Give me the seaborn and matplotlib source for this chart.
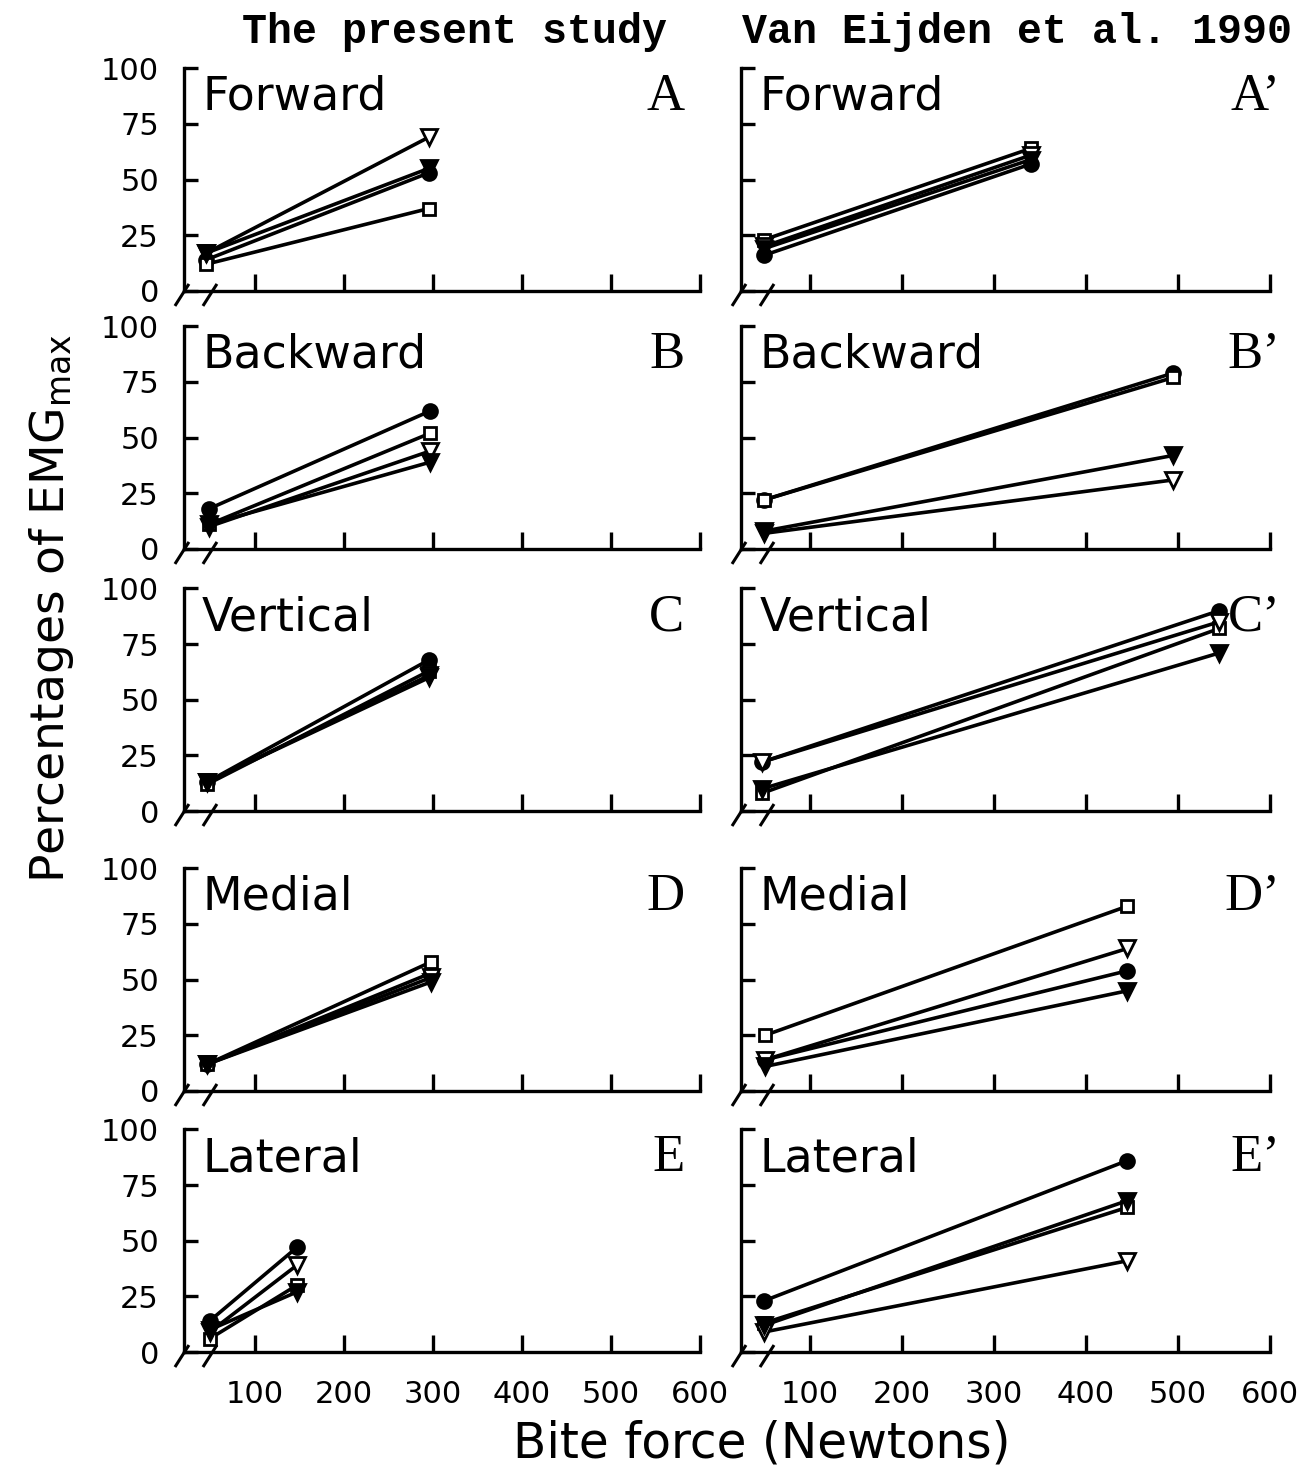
import matplotlib
matplotlib.use("Agg")
import matplotlib.pyplot as plt
import seaborn as sns

sns.set_theme(style="white")
plt.rcParams['font.family'] = ['DejaVu Sans']
plt.rcParams['text.color'] = 'black'
plt.rcParams['axes.labelcolor'] = 'black'
plt.rcParams['xtick.color'] = 'black'
plt.rcParams['ytick.color'] = 'black'

# ---------------------------------------------------------------- data
directions = ["Forward", "Backward", "Vertical", "Medial", "Lateral"]
letters_present = ["A", "B", "C", "D", "E"]
letters_eijden = ["A\u2019", "B\u2019", "C\u2019", "D\u2019", "E\u2019"]
column_titles = ["The present study", "Van Eijden et al. 1990"]

# bite force (N): low and high level, one pair per bite direction
force_present = [[45, 295], [48, 297], [46, 296], [46, 298], [49, 147]]
force_eijden = [[50, 340], [50, 495], [48, 545], [51, 445], [50, 445]]

# EMG as percentage of maximum, [low, high] per bite direction
present_dot = [[14, 53], [18, 62], [13, 68], [12, 53], [14, 47]]
present_square = [[12, 37], [11, 52], [12, 63], [12, 58], [6, 30]]
present_open_tri = [[17, 69], [10, 44], [13, 61], [12, 51], [9, 39]]
present_solid_tri = [[17, 55], [11, 39], [13, 60], [12, 49], [10, 27]]

eijden_dot = [[16, 57], [22, 79], [22, 90], [14, 54], [23, 86]]
eijden_square = [[23, 64], [22, 77], [8, 82], [25, 83], [13, 65]]
eijden_open_tri = [[20, 61], [7, 31], [22, 85], [14, 64], [9, 41]]
eijden_solid_tri = [[19, 59], [8, 42], [10, 71], [11, 45], [12, 68]]

yticks = [0, 25, 50, 75, 100]
xticks = [100, 200, 300, 400, 500, 600]

# ---------------------------------------------------------------- styling
series_style = [
    dict(marker="o", markerfacecolor="black", markersize=10),
    dict(marker="s", markerfacecolor="white", markersize=9),
    dict(marker="v", markerfacecolor="white", markersize=11),
    dict(marker="v", markerfacecolor="black", markersize=11),
]

FIG_W, FIG_H = 1312, 1465
fig = plt.figure(figsize=(FIG_W / 100, FIG_H / 100), dpi=100)

row_bottoms = [0.8014, 0.6253, 0.4464, 0.2553, 0.0771]
row_height = 0.1520
columns = [
    dict(x0=0.1402, w=0.3933, xmin=20, forces=force_present,
         series=[present_dot, present_square, present_open_tri, present_solid_tri],
         letters=letters_present, letter_x=0.97, ylabels=True),
    dict(x0=0.5648, w=0.4032, xmin=25, forces=force_eijden,
         series=[eijden_dot, eijden_square, eijden_open_tri, eijden_solid_tri],
         letters=letters_eijden, letter_x=1.02, ylabels=False),
]


def draw_break(ax, w_px, h_px):
    """Two slanted strokes marking the broken force axis."""
    dx, dy = 7 / w_px, 11 / h_px
    for cx_px in (-2, 26):
        cx, cy = cx_px / w_px, -4 / h_px
        ax.plot([cx - dx, cx + dx], [cy - dy, cy + dy], color="black",
                lw=2.2, transform=ax.transAxes, clip_on=False,
                solid_capstyle="butt")


for ci, col in enumerate(columns):
    for ri, direction in enumerate(directions):
        ax = fig.add_axes([col["x0"], row_bottoms[ri], col["w"], row_height])
        w_px, h_px = col["w"] * FIG_W, row_height * FIG_H

        force = col["forces"][ri]
        for values, style in zip(col["series"], series_style):
            sns.lineplot(x=force, y=values[ri], ax=ax, color="black",
                         lw=2.6, markeredgecolor="black",
                         markeredgewidth=2.0, clip_on=False, **style)

        ax.set_xlim(col["xmin"], 600)
        ax.set_ylim(0, 100)
        ax.set_xticks(xticks)
        ax.set_yticks(yticks)
        ax.set_xlabel("")
        ax.set_ylabel("")
        for side in ("top", "right"):
            ax.spines[side].set_visible(False)
        for side in ("left", "bottom"):
            ax.spines[side].set_color("black")
            ax.spines[side].set_linewidth(2.4)

        ax.tick_params(axis="y", direction="in", length=10, width=2.4,
                       labelsize=22, pad=18, colors="black",
                       labelleft=col["ylabels"], left=True)
        ax.tick_params(axis="x", direction="in", length=12, width=2.4,
                       labelsize=22, pad=20, colors="black",
                       labelbottom=(ri == len(directions) - 1), bottom=True)
        ax.grid(False)
        ax.set_facecolor("none")

        draw_break(ax, w_px, h_px)

        ax.text(0.035, 0.97, direction, transform=ax.transAxes,
                ha="left", va="top", fontsize=33, color="black")
        ax.text(col["letter_x"], 0.87, col["letters"][ri],
                transform=ax.transAxes, ha="right", va="center",
                fontsize=38, family="Liberation Serif", color="black")

# column headings
fig.text(455 / FIG_W, 1 - 32 / FIG_H, column_titles[0], ha="center",
         va="center", fontsize=30, family="Liberation Mono", weight="bold")
fig.text(1017 / FIG_W, 1 - 32 / FIG_H, column_titles[1], ha="center",
         va="center", fontsize=30, family="Liberation Mono", weight="bold")

# shared axis titles
fig.text(762 / FIG_W, 1 - 1443 / FIG_H, "Bite force (Newtons)", ha="center",
         va="center", fontsize=35)
fig.text(52 / FIG_W, 1 - 608 / FIG_H, r"Percentages of EMG$_{\rm max}$",
         ha="center", va="center", rotation=90, fontsize=34)

fig.savefig("out.png", dpi=100, facecolor="white")
